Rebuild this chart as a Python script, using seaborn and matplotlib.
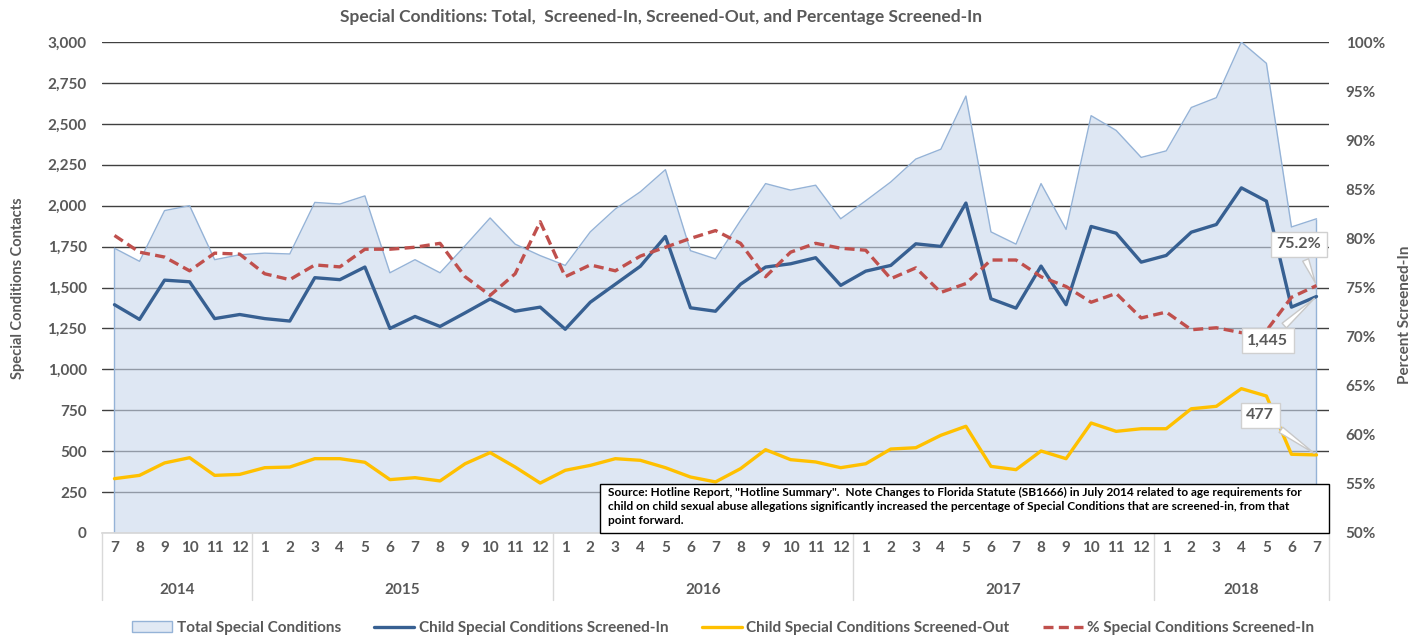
import numpy as np
import pandas as pd
import seaborn as sns
import matplotlib.pyplot as plt
from matplotlib.patches import Patch, Rectangle
from matplotlib.lines import Line2D
from matplotlib.ticker import PercentFormatter, StrMethodFormatter

sns.set_theme(style='white')
plt.rcParams['font.family'] = ['Lato', 'DejaVu Sans']
plt.rcParams['font.weight'] = 'bold'

# months Jul 2014 .. Jul 2018
years = ['2014', '2015', '2016', '2017', '2018']
months_per_year = [6, 12, 12, 12, 7]
month_labels = ([str(m) for m in range(7, 13)] + [str(m) for m in range(1, 13)] * 3
                + [str(m) for m in range(1, 8)])

total = [1740, 1660, 1970, 2000, 1670, 1700,
         1710, 1705, 2020, 2010, 2060, 1590, 1670, 1590, 1755, 1925, 1765, 1695,
         1635, 1840, 1980, 2085, 2220, 1725, 1675, 1910, 2135, 2095, 2125, 1920,
         2030, 2145, 2285, 2345, 2670, 1840, 1765, 2135, 1855, 2550, 2460, 2295,
         2335, 2600, 2660, 3000, 2870, 1870, 1920]
screened_in = [1395, 1305, 1545, 1535, 1310, 1335,
               1310, 1295, 1560, 1548, 1625, 1250, 1323, 1262, 1345, 1430, 1355, 1380,
               1245, 1410, 1520, 1630, 1812, 1376, 1355, 1520, 1625, 1645, 1682, 1513,
               1600, 1635, 1767, 1751, 2016, 1431, 1374, 1631, 1395, 1873, 1832, 1655,
               1696, 1838, 1885, 2109, 2028, 1380, 1445]
screened_out = [332, 352, 428, 460, 352, 358,
                399, 403, 454, 454, 432, 326, 338, 318, 423, 491, 403, 305,
                383, 413, 454, 444, 399, 342, 312, 393, 509, 448, 434, 399,
                423, 513, 521, 597, 652, 407, 387, 501, 454, 672, 621, 637,
                637, 759, 774, 882, 837, 481, 477]
pct_in = [80.3, 78.6, 78.1, 76.7, 78.5, 78.4,
          76.4, 75.8, 77.3, 77.1, 78.9, 78.9, 79.1, 79.5, 76.1, 74.2, 76.4, 81.7,
          76.1, 77.3, 76.7, 78.2, 79.1, 80.0, 80.8, 79.5, 76.1, 78.6, 79.5, 79.0,
          78.8, 75.9, 77.0, 74.5, 75.4, 77.8, 77.8, 76.1, 75.1, 73.5, 74.4, 71.9,
          72.5, 70.7, 70.9, 70.4, 70.6, 74.0, 75.2]

note = ('Source: Hotline Report, "Hotline Summary".  Note Changes to Florida Statute (SB1666) in July 2014 related to age requirements for\n'
        'child on child sexual abuse allegations significantly increased the percentage of Special Conditions that are screened-in, from that\n'
        'point forward.')

df = pd.DataFrame({'x': np.arange(len(total)), 'total': total, 'in': screened_in,
                   'out': screened_out, 'pct': np.array(pct_in) / 100})

txt = '#595959'
c_fill, c_edge = '#c9d8ec', '#95b3d7'
c_in, c_out, c_pct = '#376092', '#ffc000', '#c0504d'

fig = plt.figure(figsize=(14.24, 6.37), dpi=100)
ax = fig.add_axes([0.0716, 0.1633, 0.8617, 0.7707])

ax.set_axisbelow(True)
ax.yaxis.grid(True, color='#404040', lw=1)
ax.fill_between(df['x'], df['total'], color=c_fill, alpha=0.6, lw=0, zorder=1)
sns.lineplot(data=df, x='x', y='total', ax=ax, color=c_edge, lw=1, zorder=2)
ax.vlines([df['x'].iloc[0], df['x'].iloc[-1]], 0, [df['total'].iloc[0], df['total'].iloc[-1]],
          color=c_edge, lw=1, zorder=2)
sns.lineplot(data=df, x='x', y='in', ax=ax, color=c_in, lw=2.4, zorder=3)
sns.lineplot(data=df, x='x', y='out', ax=ax, color=c_out, lw=2.4, zorder=3)

ax.set_xlim(-0.5, len(total) - 0.5)
ax.set_ylim(0, 3000)
ax.set_yticks(range(0, 3001, 250))
ax.yaxis.set_major_formatter(StrMethodFormatter('{x:,.0f}'))
ax.set_xticks(df['x'])
ax.set_xticklabels(month_labels)
ax.tick_params(axis='both', length=0, labelsize=11, labelcolor=txt)
ax.tick_params(axis='y', pad=11)
ax.tick_params(axis='x', pad=6)
ax.set_xlabel('')
ax.set_ylabel('')
for s in ['left', 'right', 'top']:
    ax.spines[s].set_visible(False)
ax.spines['bottom'].set_color('#d9d9d9')

ax2 = ax.twinx()
sns.lineplot(data=df, x='x', y='pct', ax=ax2, color=c_pct, lw=2.4,
             linestyle=(0, (3, 1.6)), zorder=4)
ax2.set_ylim(0.5, 1.0)
ax2.set_yticks(np.arange(0.5, 1.001, 0.05))
ax2.yaxis.set_major_formatter(PercentFormatter(1, decimals=0))
ax2.tick_params(axis='y', length=0, labelsize=11, labelcolor=txt, pad=12)
ax2.set_ylabel('')
for s in ax2.spines.values():
    s.set_visible(False)

# year groups under month labels
xt = ax.get_xaxis_transform()
bounds = np.concatenate([[0], np.cumsum(months_per_year)]) - 0.5
for b in bounds:
    ax.plot([b, b], [0, -0.137], transform=xt, color='#d9d9d9', lw=1, clip_on=False)
for y, lo, hi in zip(years, bounds[:-1], bounds[1:]):
    ax.text((lo + hi) / 2, -0.116, y, transform=xt, ha='center', va='center',
            fontsize=11, color=txt, fontweight='bold')

# callouts on the last month
box = dict(boxstyle='square,pad=0.35', fc='white', ec='#d0d0d0', lw=1)
arr = dict(arrowstyle='wedge,tail_width=0.4,shrink_factor=0.5', fc='white', ec='#c8c8c8', lw=1)
n = len(total) - 1
ax2.annotate(f"{pct_in[n]:.1f}%", xy=(n, pct_in[n] / 100), xytext=(47.3, 0.794),
             ha='center', va='center', fontsize=11.5, color=txt, fontweight='bold',
             bbox=box, arrowprops=arr, zorder=6)
ax2.annotate(f"{screened_in[n]:,}", xy=(n, screened_in[n] / 3000 * 0.5 + 0.5), xytext=(46.05, 0.696),
             ha='center', va='center', fontsize=11.5, color=txt, fontweight='bold',
             bbox=box, arrowprops=arr, zorder=6)
ax2.annotate(f"{screened_out[n]:,}", xy=(n, screened_out[n] / 3000 * 0.5 + 0.5), xytext=(45.75, 0.62),
             ha='center', va='center', fontsize=11.5, color=txt, fontweight='bold',
             bbox=box, arrowprops=arr, zorder=6)

# source note
ax2.add_patch(Rectangle((0.406, 0.0), 0.594, 0.1, transform=ax2.transAxes, fc='white',
                        ec='black', lw=1, zorder=7, clip_on=False))
ax2.text(0.412, 0.093, note, transform=ax2.transAxes, ha='left', va='top', fontsize=8.6,
         color='black', fontweight='bold', linespacing=1.3, zorder=8)

fig.text(661 / 1424, 1 - 17 / 637, 'Special Conditions: Total,  Screened-In, Screened-Out, and Percentage Screened-In',
         ha='center', va='center', fontsize=12.5, color=txt, fontweight='bold')
fig.text(18 / 1424, 1 - 288 / 637, 'Special Conditions Contacts', rotation=90,
         ha='center', va='center', fontsize=10.5, color=txt, fontweight='bold')
fig.text(1405 / 1424, 1 - 315 / 637, 'Percent Screened-In', rotation=90,
         ha='center', va='center', fontsize=11, color=txt, fontweight='bold')

handles = [Patch(fc='#e1e9f4', ec=c_edge, lw=1),
           Line2D([], [], color=c_in, lw=2.4),
           Line2D([], [], color=c_out, lw=2.4),
           Line2D([], [], color=c_pct, lw=2.4, linestyle=(0, (3, 1.6)))]
labels = ['Total Special Conditions', 'Child Special Conditions Screened-In',
          'Child Special Conditions Screened-Out', '% Special Conditions Screened-In']
leg = fig.legend(handles, labels, loc='center', bbox_to_anchor=(0.508, 1 - 628 / 637), ncol=4,
                 frameon=False, fontsize=11, handlelength=2.6, columnspacing=2.2, handletextpad=0.3)
for t in leg.get_texts():
    t.set_color(txt)

fig.savefig('out.png', dpi=100)
